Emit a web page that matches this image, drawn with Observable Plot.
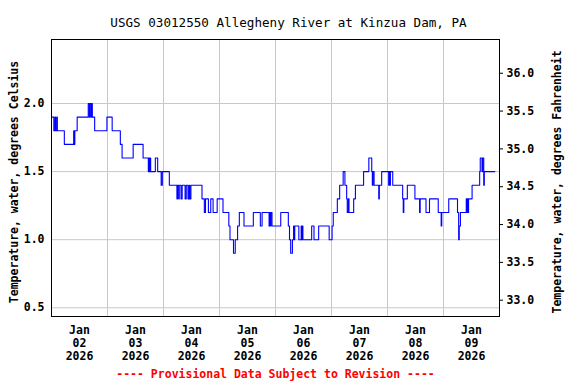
<!DOCTYPE html>
<html><head><meta charset="utf-8">
<script src="https://cdn.jsdelivr.net/npm/d3@7"></script>
<script src="https://cdn.jsdelivr.net/npm/@observablehq/plot@0.6"></script>
<style>body{margin:0;background:#fff} svg{display:block}</style>
</head><body><div id="chart"></div>
<script>
const titleText = "USGS 03012550 Allegheny River at Kinzua Dam, PA";
const footerText = "---- Provisional Data Subject to Revision ----";
const leftLabel = "Temperature, water, degrees Celsius";
const rightLabel = "Temperature, water, degrees Fahrenheit";
const startTime = "2026-01-02T00:00:00Z";
const endTime = "2026-01-10T00:00:00Z";
// hours after Jan 02 00:00 at which the reading changes, and the reading (deg C)
const hoursFromStart = [0,1,1.5,1.75,2.25,2.5,5.5,9.5,9.75,10,11,15.75,16.25,16.5,17,17.25,17.5,18.5,23.75,26,29.5,30.25,35,39.25,41.5,41.75,42,42.25,42.5,44.5,45.5,47,47.5,50.5,53.75,54,54.5,54.75,55.5,56,57.25,57.75,58.5,59,59.25,59.75,64.5,65.5,66,67.25,68.25,69.25,71,73.5,76,76.5,78,78.75,79.75,80.5,82.5,86.5,89.5,90.25,93.25,93.5,93.75,94,94.5,98.25,101.5,102,102.5,103.25,103.75,104,104.25,106,107,107.25,107.5,107.75,111.5,112.5,114.5,119,120.25,120.75,122.5,123.5,125,125.75,126.5,126.75,127.25,127.5,129.5,130.25,133.75,136,137.25,137.5,137.75,138.25,140.25,140.5,141.5,144.5,144.75,145,145.25,146.25,150.5,150.75,151,152.5,155.75,157.75,158,160.5,162,165.75,167,167.25,170.25,174,174.5,174.75,175.25,177.75,178,178.25,178.5,178.75,180.25,183.5,183.75,184.5,184.75,185.25,185.5,190];
const tempC = [1.9,1.8,1.9,1.8,1.9,1.8,1.7,1.8,1.7,1.8,1.9,2.0,1.9,2.0,1.9,2.0,1.9,1.8,1.9,1.8,1.7,1.6,1.7,1.6,1.5,1.6,1.5,1.6,1.5,1.6,1.5,1.4,1.5,1.4,1.3,1.4,1.3,1.4,1.3,1.4,1.3,1.4,1.3,1.4,1.3,1.4,1.3,1.2,1.3,1.2,1.3,1.2,1.3,1.2,1.1,1.0,0.9,1.0,1.1,1.2,1.1,1.2,1.1,1.2,1.1,1.2,1.1,1.2,1.1,1.2,1.1,1.0,0.9,1.0,1.1,1.0,1.1,1.0,1.1,1.0,1.1,1.0,1.1,1.0,1.1,1.0,1.1,1.2,1.3,1.4,1.5,1.4,1.3,1.2,1.3,1.2,1.3,1.4,1.5,1.6,1.5,1.4,1.5,1.4,1.3,1.4,1.5,1.4,1.5,1.4,1.5,1.4,1.3,1.2,1.3,1.4,1.3,1.2,1.3,1.2,1.3,1.2,1.1,1.2,1.3,1.2,1.0,1.1,1.2,1.3,1.2,1.3,1.2,1.3,1.4,1.5,1.6,1.5,1.6,1.4,1.5,1.5];
const celsiusTicks = [0.5, 1.0, 1.5, 2.0];
const fahrenheitTicks = [33.0, 33.5, 34.0, 34.5, 35.0, 35.5, 36.0];
const dayStarts = ["2026-01-03","2026-01-04","2026-01-05","2026-01-06","2026-01-07","2026-01-08","2026-01-09"];
const dayLabelTimes = ["2026-01-02T12:00:00Z","2026-01-03T12:00:00Z","2026-01-04T12:00:00Z","2026-01-05T12:00:00Z","2026-01-06T12:00:00Z","2026-01-07T12:00:00Z","2026-01-08T12:00:00Z","2026-01-09T12:00:00Z"];
const yDomain = [0.436, 2.47];

const t0 = new Date(startTime).getTime();
const series = hoursFromStart.map((h, i) => ({time: new Date(t0 + h * 3600e3), value: tempC[i]}));
const toC = f => (f - 32) / 1.8;
const fmtDay = d3.utcFormat("%b\n%d\n%Y");

const chart = Plot.plot({
  width: 576, height: 384,
  marginLeft: 51, marginRight: 77, marginTop: 39, marginBottom: 68,
  style: {fontFamily: "'DejaVu Sans Mono', monospace", fontSize: "11.5px", fontWeight: "bold", color: "black", background: "white"},
  x: {type: "utc", domain: [new Date(startTime), new Date(endTime)]},
  y: {domain: yDomain},
  marks: [
    Plot.gridX(dayStarts.map(d => new Date(d + "T00:00:00Z")), {stroke: "#c8c8c8", strokeOpacity: 1}),
    Plot.gridY(celsiusTicks, {stroke: "#c8c8c8", strokeOpacity: 1}),
    Plot.line(series, {x: "time", y: "value", curve: "step-after", stroke: "#0000ff", strokeWidth: 1.1}),
    Plot.frame({stroke: "black"}),
    Plot.axisX(dayLabelTimes.map(d => new Date(d)), {tickSize: 0, tickPadding: 8, tickFormat: fmtDay, lineHeight: 1.13, label: null}),
    Plot.axisY(celsiusTicks, {anchor: "left", tickSize: 0, tickPadding: 7, tickFormat: d => d.toFixed(1), label: null}),
    Plot.axisY(fahrenheitTicks.map(toC), {anchor: "right", tickSize: 3, tickPadding: 4, tickFormat: c => (c * 1.8 + 32).toFixed(1), label: null}),
    Plot.text([leftLabel], {frameAnchor: "left", textAnchor: "middle", dx: -37, dy: 4, rotate: -90, text: d => d}),
    Plot.text([rightLabel], {frameAnchor: "right", textAnchor: "middle", dx: 58, dy: 4, rotate: -90, text: d => d}),
    Plot.text([titleText], {frameAnchor: "top", dx: 13, dy: -21, text: d => d, fontSize: 12.6, fontWeight: "normal"}),
    Plot.text([footerText], {frameAnchor: "bottom", dy: 61, text: d => d, fill: "red"})
  ]
});
document.getElementById("chart").appendChild(chart);
</script>
</body></html>
